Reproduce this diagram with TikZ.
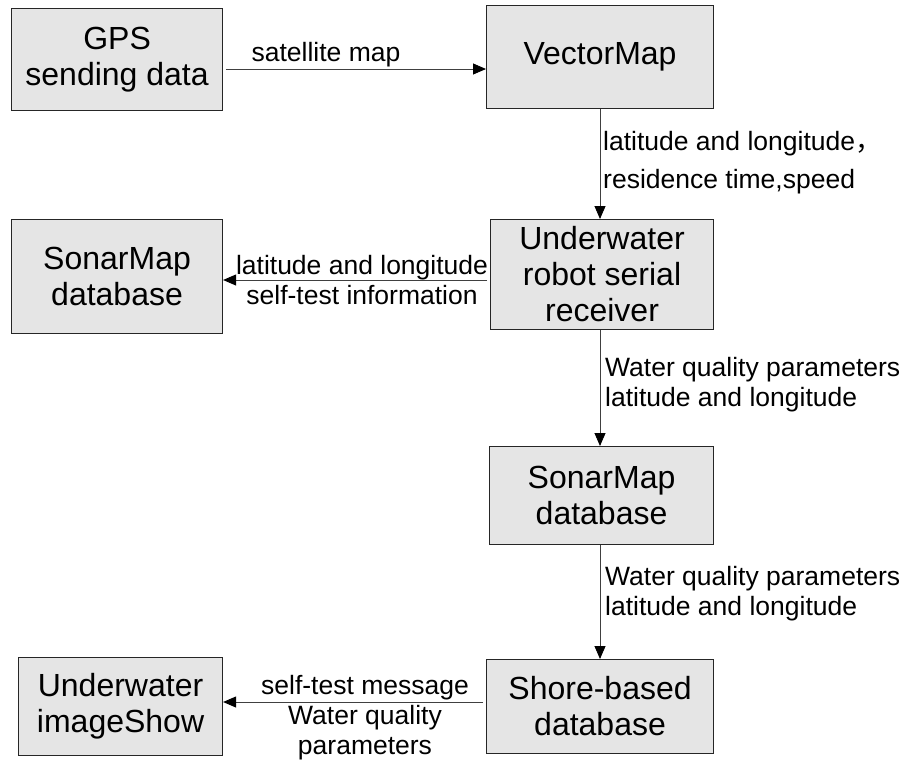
\documentclass[tikz,border=0pt]{standalone}
\usepackage{fontspec}
\setmainfont{Liberation Sans}
\newfontfamily\cjk{Noto Sans CJK SC}
\usetikzlibrary{arrows.meta,calc}
\begin{document}
\begin{tikzpicture}[x=1pt,y=-1pt,
 box/.style={draw=black!85,line width=1.1pt,fill=black!10,align=center,inner sep=0pt,anchor=north west,font=\fontsize{32}{36}\selectfont},
 arr/.style={draw=black!75,line width=0.9pt,-{Triangle[length=13pt,width=11pt,black]}},
 lbl/.style={inner sep=0pt,font=\fontsize{26.5}{30}\selectfont},
]
\useasboundingbox (0,0) rectangle (908,763);
\node[box,minimum width=211pt,minimum height=102pt] (gps) at (11,8) {GPS\\sending data};
\node[box,minimum width=227pt,minimum height=103pt] (vm) at (486,5) {VectorMap};
\node[box,minimum width=223pt,minimum height=110pt] (robot) at (490,219) {Underwater\\robot serial\\receiver};
\node[box,minimum width=211pt,minimum height=114pt] (sonL) at (11,219) {SonarMap\\database};
\node[box,minimum width=224pt,minimum height=98pt] (sonM) at (489,446) {SonarMap\\database};
\node[box,minimum width=227pt,minimum height=94pt] (shore) at (486,659) {Shore-based\\database};
\node[box,minimum width=204pt,minimum height=98pt] (show) at (18,657) {Underwater\\imageShow};

\draw[arr,shorten <=3pt] (gps.east |- 0,69) -- (vm.west |- 0,69);
\draw[arr] (vm.south -| 600,0) -- (robot.north -| 600,0);
\draw[arr,shorten <=3pt] (robot.west |- 0,280) -- (sonL.east |- 0,280);
\draw[arr] (robot.south -| 600,0) -- (sonM.north -| 600,0);
\draw[arr] (sonM.south -| 600,0) -- (shore.north -| 600,0);
\draw[arr,shorten <=3pt] (shore.west |- 0,702) -- (show.east |- 0,702);

\node[lbl] (l1) at (326,55) {satellite map};
\node[lbl,anchor=west,align=left] (l2) at (603,163) {latitude and longitude{\cjk ，}\\[8pt]residence time,speed};
\node[lbl,align=center] (l3) at (362,280) {latitude and longitude\\self-test information};
\node[lbl,anchor=west,align=left] (l4) at (605,385) {Water quality parameters\\latitude and longitude};
\node[lbl,anchor=west,align=left] (l5) at (605,594) {Water quality parameters\\latitude and longitude};
\node[lbl,align=center] (l6) at (365,718) {self-test message\\Water quality\\parameters};
\end{tikzpicture}
\end{document}
